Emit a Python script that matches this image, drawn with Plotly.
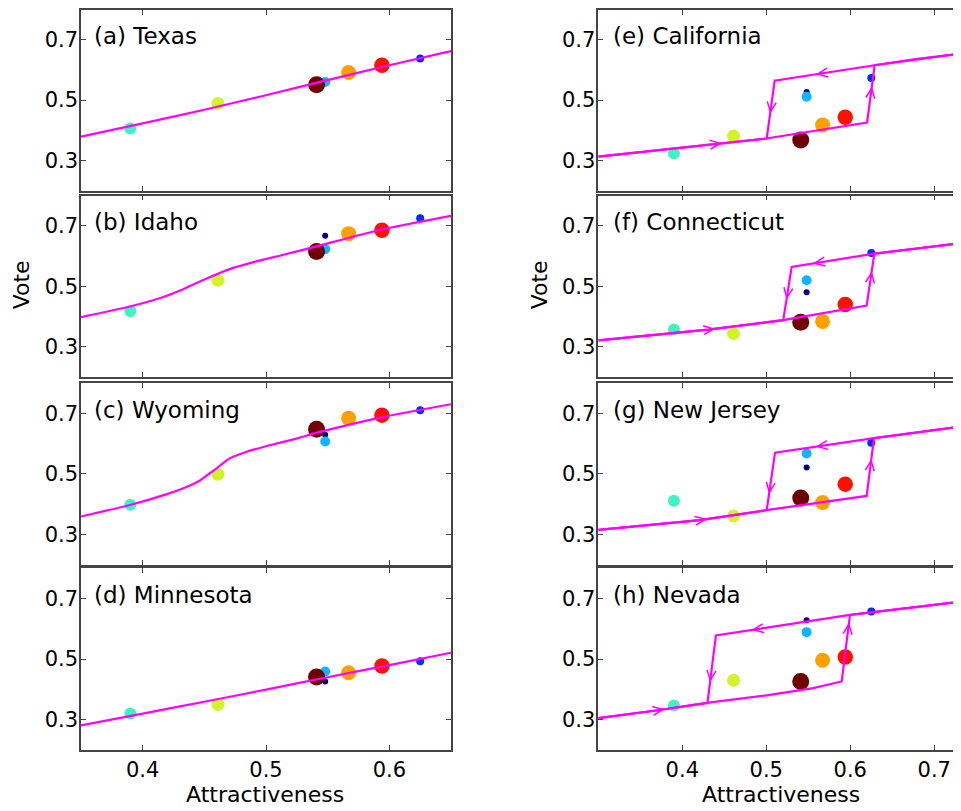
import math
import plotly.graph_objects as go

# ---------------- data ----------------
# attractiveness of each election (chronological order: navy ... maroon)
attract = [0.548, 0.625, 0.548, 0.390, 0.461, 0.567, 0.594, 0.541]
point_colors = ["#000080", "#0030F0", "#10B4FF", "#40F2C4", "#D4F22A", "#FFA000", "#FF1000", "#700000"]
point_sizes = [6, 8, 10, 12, 13, 15, 15.5, 17]

panel_labels = ["(a) Texas", "(b) Idaho", "(c) Wyoming", "(d) Minnesota",
                "(e) California", "(f) Connecticut", "(g) New Jersey", "(h) Nevada"]

vote_texas = [0.556, 0.637, 0.560, 0.406, 0.489, 0.591, 0.615, 0.551]
vote_idaho = [0.667, 0.725, 0.623, 0.418, 0.520, 0.674, 0.685, 0.615]
vote_wyoming = [0.629, 0.710, 0.607, 0.398, 0.499, 0.684, 0.694, 0.647]
vote_minnesota = [0.426, 0.493, 0.459, 0.320, 0.350, 0.455, 0.477, 0.441]
vote_california = [0.527, 0.573, 0.511, 0.324, 0.381, 0.418, 0.443, 0.368]
vote_connecticut = [0.480, 0.610, 0.520, 0.357, 0.344, 0.384, 0.440, 0.381]
vote_newjersey = [0.521, 0.603, 0.567, 0.411, 0.361, 0.405, 0.466, 0.420]
vote_nevada = [0.628, 0.657, 0.589, 0.347, 0.430, 0.496, 0.507, 0.426]

# model curves (single-valued states)
texas_x = [0.35, 0.40, 0.45, 0.50, 0.55, 0.60, 0.65]
texas_y = [0.379, 0.423, 0.468, 0.516, 0.566, 0.615, 0.662]
idaho_x = [0.35, 0.3905, 0.415, 0.4305, 0.442, 0.452, 0.47, 0.49, 0.515, 0.541, 0.593, 0.65]
idaho_y = [0.398, 0.434, 0.462, 0.486, 0.508, 0.526, 0.556, 0.580, 0.605, 0.632, 0.687, 0.733]
wyoming_x = [0.35, 0.3905, 0.4197, 0.437, 0.4468, 0.4535, 0.4603, 0.466, 0.471, 0.485, 0.5008, 0.5224, 0.5414, 0.5927, 0.65]
wyoming_y = [0.359, 0.398, 0.433, 0.459, 0.479, 0.499, 0.519, 0.538, 0.552, 0.574, 0.592, 0.614, 0.636, 0.686, 0.730]
minnesota_x = [0.35, 0.40, 0.45, 0.50, 0.55, 0.60, 0.65]
minnesota_y = [0.281, 0.320, 0.359, 0.399, 0.440, 0.480, 0.521]

# hysteresis states: forward sweep (increasing) and backward sweep (decreasing)
california_fwd_x = [0.30, 0.40, 0.50, 0.62, 0.629, 0.68, 0.732]
california_fwd_y = [0.313, 0.343, 0.373, 0.426, 0.615, 0.636, 0.654]
california_bwd_x = [0.732, 0.629, 0.51, 0.5005, 0.40, 0.30]
california_bwd_y = [0.654, 0.615, 0.564, 0.373, 0.343, 0.313]

connecticut_fwd_x = [0.30, 0.431, 0.52, 0.6195, 0.6286, 0.68, 0.732]
connecticut_fwd_y = [0.321, 0.357, 0.388, 0.436, 0.608, 0.626, 0.643]
connecticut_bwd_x = [0.732, 0.6286, 0.5302, 0.5202, 0.431, 0.30]
connecticut_bwd_y = [0.643, 0.608, 0.564, 0.388, 0.357, 0.321]

newjersey_fwd_x = [0.30, 0.421, 0.5005, 0.6195, 0.6282, 0.68, 0.732]
newjersey_fwd_y = [0.315, 0.347, 0.380, 0.427, 0.618, 0.637, 0.656]
newjersey_bwd_x = [0.732, 0.6282, 0.5104, 0.5005, 0.421, 0.30]
newjersey_bwd_y = [0.656, 0.618, 0.570, 0.380, 0.347, 0.315]

nevada_fwd_x = [0.30, 0.371, 0.429, 0.5005, 0.556, 0.5898, 0.5996, 0.66, 0.732]
nevada_fwd_y = [0.305, 0.331, 0.355, 0.380, 0.404, 0.426, 0.646, 0.665, 0.690]
nevada_bwd_x = [0.732, 0.5996, 0.44, 0.43, 0.371, 0.30]
nevada_bwd_y = [0.690, 0.646, 0.578, 0.355, 0.331, 0.305]

# arrow marks: (sweep, segment index, fraction along segment)
california_arrows = [("f", 1, 0.45), ("f", 3, 0.60), ("b", 1, 0.57), ("b", 2, 0.54)]
connecticut_arrows = [("f", 1, 0.07), ("f", 3, 0.63), ("b", 1, 0.72), ("b", 2, 0.58)]
newjersey_arrows = [("f", 1, 0.08), ("f", 3, 0.61), ("b", 1, 0.57), ("b", 2, 0.69)]
nevada_arrows = [("f", 1, 0.10), ("f", 5, 0.86), ("b", 1, 0.72), ("b", 2, 0.665)]

left_xticks = [0.4, 0.5, 0.6]
right_xticks = [0.4, 0.5, 0.6, 0.7]
yticks = [0.3, 0.5, 0.7]

# ---------------- layout geometry ----------------
# the page body adds an 8px margin, so the figure is made 8px smaller and
# every target pixel position is shifted by that offset
OFF = 8.0
W, H = 961 - OFF, 811 - OFF
col_px = [(81.0, 451.0), (598.3, 961.0)]
col_range = [(0.35, 0.65), (0.30, 0.7318)]
row_tops = [7.3, 194.0, 382.0, 567.7]
row_h = 182.0
y_range = (0.2, 0.8)
y_scale = row_h / (y_range[1] - y_range[0])

MAGENTA = "#FF00FF"
AXC = "#444444"
TICKFONT = dict(family="DejaVu Sans, sans-serif", size=21, color="black")
TEXTFONT = dict(family="DejaVu Sans, sans-serif", size=23, color="black")
TITLEFONT = dict(family="DejaVu Sans, sans-serif", size=22, color="black")

fig = go.Figure()

votes = [vote_texas, vote_idaho, vote_wyoming, vote_minnesota,
         vote_california, vote_connecticut, vote_newjersey, vote_nevada]
single_curves = [(texas_x, texas_y), (idaho_x, idaho_y), (wyoming_x, wyoming_y), (minnesota_x, minnesota_y)]
hyst = [
    (california_fwd_x, california_fwd_y, california_bwd_x, california_bwd_y, california_arrows),
    (connecticut_fwd_x, connecticut_fwd_y, connecticut_bwd_x, connecticut_bwd_y, connecticut_arrows),
    (newjersey_fwd_x, newjersey_fwd_y, newjersey_bwd_x, newjersey_bwd_y, newjersey_arrows),
    (nevada_fwd_x, nevada_fwd_y, nevada_bwd_x, nevada_bwd_y, nevada_arrows),
]


def chevrons(specs, fx, fy, bx, by, sx, sy, L=11.0, ang=24.0):
    ox, oy = [], []
    for sweep, seg, frac in specs:
        xs, ys = (fx, fy) if sweep == "f" else (bx, by)
        x0, y0, x1, y1 = xs[seg], ys[seg], xs[seg + 1], ys[seg + 1]
        xt = x0 + frac * (x1 - x0)
        yt = y0 + frac * (y1 - y0)
        dx, dy = (x1 - x0) * sx, (y1 - y0) * sy
        n = math.hypot(dx, dy)
        ux, uy = dx / n, dy / n
        arms = []
        for s in (1, -1):
            a = math.radians(ang * s)
            rx = ux * math.cos(a) - uy * math.sin(a)
            ry = ux * math.sin(a) + uy * math.cos(a)
            arms.append((xt - L * rx / sx, yt - L * ry / sy))
        ox += [arms[0][0], xt, arms[1][0], None]
        oy += [arms[0][1], yt, arms[1][1], None]
    return ox, oy


annotations = []
for k in range(8):
    col = 0 if k < 4 else 1
    row = k % 4
    idx = k + 1
    xa = "x" if idx == 1 else f"x{idx}"
    ya = "y" if idx == 1 else f"y{idx}"
    x0p, x1p = col_px[col]
    top = row_tops[row] - OFF
    vis_top = max(top, 0.0)
    bot = top + row_h
    xdom = [(x0p - OFF) / W, min(1.0, (x1p - OFF) / W)]
    ydom = [1 - bot / H, 1 - vis_top / H]
    yr = [y_range[0], y_range[1] - (vis_top - top) / y_scale]
    xr = col_range[col]

    # data points
    fig.add_trace(go.Scatter(
        x=attract, y=votes[k], mode="markers", xaxis=xa, yaxis=ya,
        marker=dict(color=point_colors, size=point_sizes, opacity=1, line=dict(width=0)),
        showlegend=False, hoverinfo="skip"))

    if col == 0:
        cx, cy = single_curves[row]
        fig.add_trace(go.Scatter(x=cx, y=cy, mode="lines", xaxis=xa, yaxis=ya,
                                 line=dict(color=MAGENTA, width=2.2, shape="spline", smoothing=0.6),
                                 showlegend=False, hoverinfo="skip"))
    else:
        fx, fy, bx, by, specs = hyst[row]
        fig.add_trace(go.Scatter(x=fx + [None] + bx, y=fy + [None] + by, mode="lines", xaxis=xa, yaxis=ya,
                                 line=dict(color=MAGENTA, width=2.2), showlegend=False, hoverinfo="skip"))
        sx = (x1p - x0p) / (xr[1] - xr[0])
        ax_, ay_ = chevrons(specs, fx, fy, bx, by, sx, y_scale)
        fig.add_trace(go.Scatter(x=ax_, y=ay_, mode="lines", xaxis=xa, yaxis=ya,
                                 line=dict(color=MAGENTA, width=1.5), showlegend=False, hoverinfo="skip"))

    bottom = (row == 3)
    xt_vals = left_xticks if col == 0 else right_xticks
    xaxis = dict(domain=xdom, range=list(xr), anchor=ya,
                 tickvals=xt_vals, ticktext=[f"{v:.1f}" for v in xt_vals],
                 showticklabels=bottom, ticks="inside", ticklen=5, tickwidth=1, tickcolor=AXC,
                 showline=True, linecolor=AXC, linewidth=1.5, mirror="ticks",
                 showgrid=False, zeroline=False, tickfont=TICKFONT, fixedrange=True)
    yaxis = dict(domain=ydom, range=yr, anchor=xa,
                 tickvals=yticks, ticktext=[f"{v:.1f}" for v in yticks],
                 ticks="inside", ticklen=5, tickwidth=1, tickcolor=AXC,
                 showline=True, linecolor=AXC, linewidth=1.5,
                 mirror="ticks" if col == 0 else False, ticklabelstandoff=-3,
                 showgrid=False, zeroline=False, tickfont=TICKFONT, fixedrange=True)
    fig.layout[("xaxis" if idx == 1 else f"xaxis{idx}")] = xaxis
    fig.layout[("yaxis" if idx == 1 else f"yaxis{idx}")] = yaxis

    label_y_abs = row_tops[row] + 27 - OFF
    annotations.append(dict(text=panel_labels[k], xref=f"{xa} domain", yref="paper",
                            x=0, y=1 - label_y_abs / H, xshift=11 if col == 0 else 13,
                            xanchor="left", yanchor="middle", showarrow=False, font=TEXTFONT))

# axis titles
annotations.append(dict(text="Vote", xref="paper", yref="paper", x=(21 - OFF) / W, y=1 - (284 - OFF) / H,
                        textangle=-90, showarrow=False, font=TITLEFONT, xanchor="center", yanchor="middle"))
annotations.append(dict(text="Vote", xref="paper", yref="paper", x=(539 - OFF) / W, y=1 - (284 - OFF) / H,
                        textangle=-90, showarrow=False, font=TITLEFONT, xanchor="center", yanchor="middle"))
annotations.append(dict(text="Attractiveness", xref="paper", yref="paper", x=(265 - OFF) / W, y=1 - (794 - OFF) / H,
                        showarrow=False, font=TITLEFONT, xanchor="center", yanchor="middle"))
annotations.append(dict(text="Attractiveness", xref="paper", yref="paper", x=(781 - OFF) / W, y=1 - (794 - OFF) / H,
                        showarrow=False, font=TITLEFONT, xanchor="center", yanchor="middle"))

fig.update_layout(width=W, height=H, margin=dict(l=0, r=0, t=0, b=0),
                  paper_bgcolor="white", plot_bgcolor="white",
                  annotations=annotations, showlegend=False)

fig.write_html("out.html")
